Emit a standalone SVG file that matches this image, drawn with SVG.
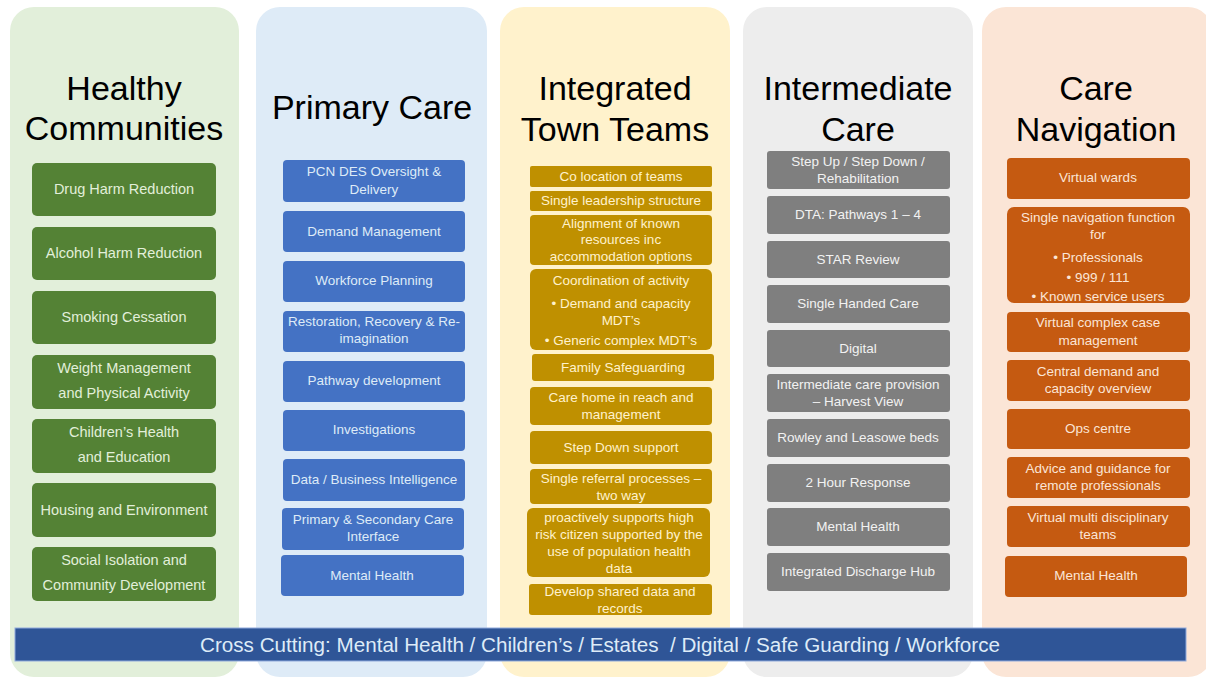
<svg xmlns="http://www.w3.org/2000/svg" width="1206" height="680" viewBox="0 0 1206 680">
<style>
.h{font-family:"Liberation Sans",Arial,sans-serif;font-size:34px;fill:#000;text-anchor:middle}
.t{font-family:"Liberation Sans",Arial,sans-serif;font-size:13.5px;text-anchor:middle}
.g .t{font-size:14.5px;fill:#e2efda}
.b .t{fill:#deebf7}
.y .t{fill:#fff2cc}
.k .t{fill:#f2f2f2}
.o .t{fill:#fbe5d6}
.g rect.bx{fill:#548235}
.b rect.bx{fill:#4472c4}
.y rect.bx{fill:#bf9000}
.k rect.bx{fill:#7f7f7f}
.o rect.bx{fill:#c55a11}
</style>
<rect width="1206" height="680" fill="#ffffff"/>
<g id="panels">
<rect x="10" y="7" width="229" height="670" rx="24" fill="#e2efda"/>
<rect x="256" y="7" width="231" height="670" rx="24" fill="#deebf7"/>
<rect x="500" y="7" width="230" height="670" rx="24" fill="#fff2cc"/>
<rect x="743" y="7" width="230" height="670" rx="24" fill="#ededed"/>
<rect x="982" y="7" width="230" height="670" rx="24" fill="#fbe5d6"/>
</g>
<g id="headings">
<text class="h" x="124" y="100">Healthy</text>
<text class="h" x="124" y="140">Communities</text>
<text class="h" x="372" y="119">Primary Care</text>
<text class="h" x="615" y="100">Integrated</text>
<text class="h" x="615" y="141">Town Teams</text>
<text class="h" x="858" y="100">Intermediate</text>
<text class="h" x="858" y="141">Care</text>
<text class="h" x="1096" y="100">Care</text>
<text class="h" x="1096" y="141">Navigation</text>
</g>
<g id="col-healthy" class="g">
<g id="hc1"><rect class="bx" x="32" y="163" width="184" height="53" rx="5"/><text class="t" x="124" y="194">Drug Harm Reduction</text></g>
<g id="hc2"><rect class="bx" x="32" y="227" width="184" height="53" rx="5"/><text class="t" x="124" y="258">Alcohol Harm Reduction</text></g>
<g id="hc3"><rect class="bx" x="32" y="291" width="184" height="53" rx="5"/><text class="t" x="124" y="322">Smoking Cessation</text></g>
<g id="hc4"><rect class="bx" x="32" y="355" width="184" height="54" rx="5"/><text class="t" x="124" y="373">Weight Management<tspan x="124" y="398">and Physical Activity</tspan></text></g>
<g id="hc5"><rect class="bx" x="32" y="419" width="184" height="54" rx="5"/><text class="t" x="124" y="437">Children’s Health<tspan x="124" y="462">and Education</tspan></text></g>
<g id="hc6"><rect class="bx" x="32" y="483" width="184" height="54" rx="5"/><text class="t" x="124" y="515">Housing and Environment</text></g>
<g id="hc7"><rect class="bx" x="32" y="547" width="184" height="54" rx="5"/><text class="t" x="124" y="565">Social Isolation and<tspan x="124" y="590">Community Development</tspan></text></g>
</g>
<g id="col-primary" class="b">
<g id="pc1"><rect class="bx" x="283" y="160" width="182" height="42" rx="4"/><text class="t" x="374" y="176">PCN DES Oversight &amp;<tspan x="374" y="194">Delivery</tspan></text></g>
<g id="pc2"><rect class="bx" x="283" y="211" width="182" height="41" rx="4"/><text class="t" x="374" y="236">Demand Management</text></g>
<g id="pc3"><rect class="bx" x="283" y="261" width="182" height="41" rx="4"/><text class="t" x="374" y="285">Workforce  Planning</text></g>
<g id="pc4"><rect class="bx" x="283" y="311" width="182" height="41" rx="4"/><text class="t" x="374" y="326">Restoration, Recovery &amp; Re-<tspan x="374" y="343">imagination</tspan></text></g>
<g id="pc5"><rect class="bx" x="283" y="361" width="182" height="41" rx="4"/><text class="t" x="374" y="385">Pathway development</text></g>
<g id="pc6"><rect class="bx" x="283" y="410" width="182" height="41" rx="4"/><text class="t" x="374" y="434">Investigations</text></g>
<g id="pc7"><rect class="bx" x="283" y="459" width="182" height="42" rx="4"/><text class="t" x="374" y="484">Data / Business Intelligence</text></g>
<g id="pc8"><rect class="bx" x="282" y="508" width="182" height="42" rx="4"/><text class="t" x="373" y="524">Primary &amp; Secondary Care<tspan x="373" y="541">Interface</tspan></text></g>
<g id="pc9"><rect class="bx" x="281" y="555" width="183" height="41" rx="4"/><text class="t" x="372" y="580">Mental Health</text></g>
</g>
<g id="col-itt" class="y">
<g id="it1"><rect class="bx" x="530" y="166" width="182" height="21" rx="2"/><text class="t" x="621" y="181">Co location of teams</text></g>
<g id="it2"><rect class="bx" x="530" y="191" width="182" height="20" rx="2"/><text class="t" x="621" y="205">Single leadership structure</text></g>
<g id="it3"><rect class="bx" x="530" y="215" width="182" height="50" rx="4"/><text class="t" x="621" y="228">Alignment of known<tspan x="621" y="244">resources inc</tspan><tspan x="621" y="261">accommodation  options</tspan></text></g>
<g id="it4"><rect class="bx" x="530" y="269" width="182" height="81" rx="6"/><text class="t" x="621" y="285">Coordination  of activity<tspan x="621" y="308">• Demand and capacity</tspan><tspan x="621" y="325">MDT’s</tspan><tspan x="621" y="345">• Generic complex MDT’s</tspan></text></g>
<g id="it5"><rect class="bx" x="532" y="354" width="182" height="27" rx="3"/><text class="t" x="623" y="372">Family Safeguarding</text></g>
<g id="it6"><rect class="bx" x="530" y="387" width="182" height="38" rx="4"/><text class="t" x="621" y="402">Care home  in reach and<tspan x="621" y="419">management</tspan></text></g>
<g id="it7"><rect class="bx" x="530" y="431" width="182" height="33" rx="4"/><text class="t" x="621" y="452">Step  Down support</text></g>
<g id="it8"><rect class="bx" x="530" y="469" width="182" height="35" rx="4"/><text class="t" x="621" y="483">Single referral processes –<tspan x="621" y="500">two  way</tspan></text></g>
<g id="it9"><rect class="bx" x="527" y="508" width="183" height="69" rx="6"/><text class="t" x="619" y="522">proactively supports  high<tspan x="619" y="539">risk citizen supported  by the</tspan><tspan x="619" y="556">use of population  health</tspan><tspan x="619" y="573">data</tspan></text></g>
<g id="it10"><rect class="bx" x="529" y="584" width="183" height="31" rx="3"/><text class="t" x="620" y="596">Develop shared data and<tspan x="620" y="613">records</tspan></text></g>
</g>
<g id="col-intermediate" class="k">
<g id="ic1"><rect class="bx" x="767" y="151" width="183" height="38" rx="3"/><text class="t" x="858" y="166">Step Up / Step Down /<tspan x="858" y="183">Rehabilitation</tspan></text></g>
<g id="ic2"><rect class="bx" x="767" y="196" width="183" height="38" rx="3"/><text class="t" x="858" y="219">DTA: Pathways 1 – 4</text></g>
<g id="ic3"><rect class="bx" x="767" y="241" width="183" height="37" rx="3"/><text class="t" x="858" y="264">STAR Review</text></g>
<g id="ic4"><rect class="bx" x="767" y="285" width="183" height="38" rx="3"/><text class="t" x="858" y="308">Single Handed Care</text></g>
<g id="ic5"><rect class="bx" x="767" y="330" width="183" height="37" rx="3"/><text class="t" x="858" y="353">Digital</text></g>
<g id="ic6"><rect class="bx" x="767" y="374" width="183" height="38" rx="3"/><text class="t" x="858" y="389">Intermediate  care provision<tspan x="858" y="406">– Harvest View</tspan></text></g>
<g id="ic7"><rect class="bx" x="767" y="419" width="183" height="38" rx="3"/><text class="t" x="858" y="442">Rowley and Leasowe beds</text></g>
<g id="ic8"><rect class="bx" x="767" y="464" width="183" height="38" rx="3"/><text class="t" x="858" y="487">2 Hour  Response</text></g>
<g id="ic9"><rect class="bx" x="767" y="508" width="183" height="38" rx="3"/><text class="t" x="858" y="531">Mental Health</text></g>
<g id="ic10"><rect class="bx" x="767" y="553" width="183" height="38" rx="3"/><text class="t" x="858" y="576">Integrated Discharge Hub</text></g>
</g>
<g id="col-navigation" class="o">
<g id="cn1"><rect class="bx" x="1007" y="158" width="183" height="41" rx="4"/><text class="t" x="1098" y="182">Virtual wards</text></g>
<g id="cn2"><rect class="bx" x="1007" y="207" width="183" height="96" rx="7"/><text class="t" x="1098" y="222">Single navigation function<tspan x="1098" y="239">for</tspan><tspan x="1098" y="262">• Professionals</tspan><tspan x="1098" y="282">• 999 / 111</tspan><tspan x="1098" y="301">• Known service users</tspan></text></g>
<g id="cn3"><rect class="bx" x="1007" y="312" width="183" height="40" rx="4"/><text class="t" x="1098" y="327">Virtual complex case<tspan x="1098" y="345">management</tspan></text></g>
<g id="cn4"><rect class="bx" x="1007" y="360" width="183" height="41" rx="4"/><text class="t" x="1098" y="376">Central demand  and<tspan x="1098" y="393">capacity overview</tspan></text></g>
<g id="cn5"><rect class="bx" x="1007" y="409" width="183" height="40" rx="4"/><text class="t" x="1098" y="433">Ops centre</text></g>
<g id="cn6"><rect class="bx" x="1007" y="457" width="183" height="41" rx="4"/><text class="t" x="1098" y="473">Advice and guidance for<tspan x="1098" y="490">remote  professionals</tspan></text></g>
<g id="cn7"><rect class="bx" x="1007" y="506" width="183" height="41" rx="4"/><text class="t" x="1098" y="522">Virtual multi disciplinary<tspan x="1098" y="539">teams</tspan></text></g>
<g id="cn8"><rect class="bx" x="1005" y="556" width="182" height="41" rx="4"/><text class="t" x="1096" y="580">Mental Health</text></g>
</g>
<g id="cross-cutting">
<rect x="15" y="628" width="1171" height="33" fill="#2f5597" stroke="#8faadc" stroke-width="1"/>
<text x="600" y="652" font-family="'Liberation Sans',Arial,sans-serif" font-size="20" fill="#deebf7" text-anchor="middle" textLength="800" lengthAdjust="spacingAndGlyphs" xml:space="preserve">Cross Cutting: Mental Health / Children’s / Estates  / Digital / Safe Guarding / Workforce</text>
</g>
</svg>
